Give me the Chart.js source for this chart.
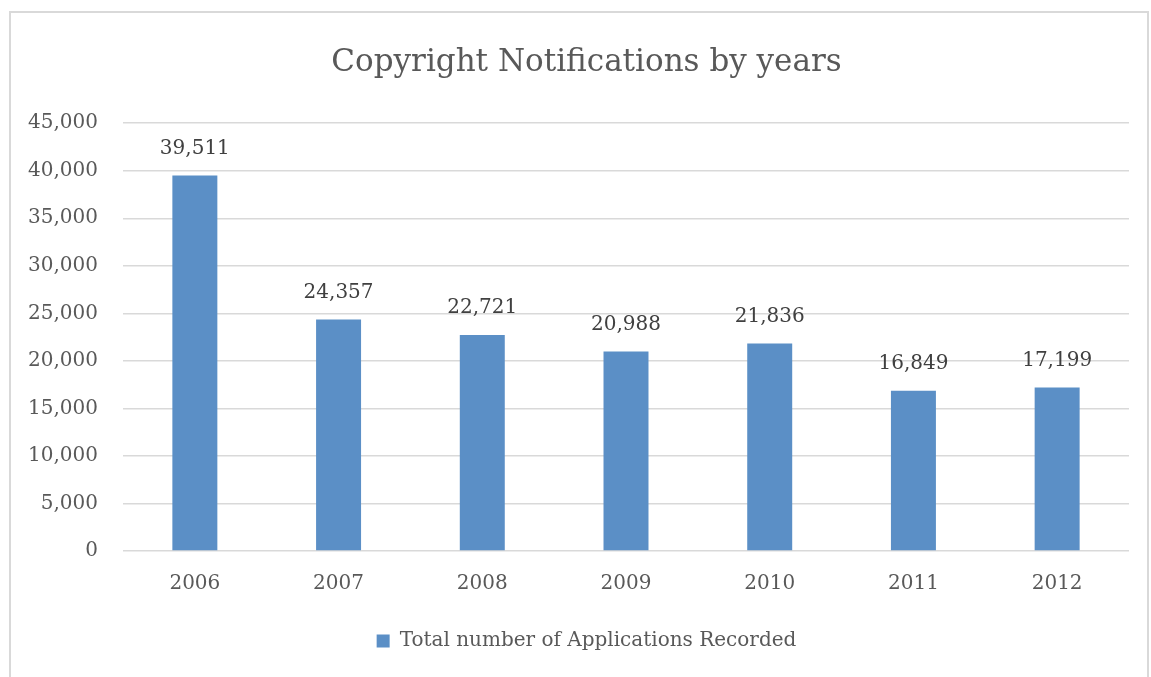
<!DOCTYPE html>
<html lang="en">
<head>
  <meta charset="UTF-8">
  <title>Copyright Notifications by years</title>
  <script src="https://cdn.jsdelivr.net/npm/chart.js"></script>
  <style>
    body {
      margin: 0;
      background: #ffffff;
    }
    .frame {
      position: absolute;
      left: 9px;
      top: 11px;
      width: 1136px;
      height: 700px;
      border: 2px solid #d9d9d9;
    }
    #chart {
      position: absolute;
      left: 0;
      top: 0;
    }
  </style>
</head>
<body>
  <div class="frame"></div>
  <canvas id="chart" width="1151" height="677"></canvas>

  <script>
    // Data
    const years = ['2006', '2007', '2008', '2009', '2010', '2011', '2012'];
    const applications = [39511, 24357, 22721, 20988, 21836, 16849, 17199];
    const yMax = 45000;
    const yStep = 5000;

    const fontFamily = "'DejaVu Serif', 'Liberation Serif', serif";
    const textColor = '#595959';

    // Value labels above each bar
    const valueLabels = {
      id: 'valueLabels',
      afterDatasetsDraw(chart) {
        const ctx = chart.ctx;
        const meta = chart.getDatasetMeta(0);
        ctx.save();
        ctx.font = '20px ' + fontFamily;
        ctx.fillStyle = '#404040';
        ctx.textAlign = 'center';
        ctx.textBaseline = 'middle';
        meta.data.forEach(function(bar, i) {
          ctx.fillText(applications[i].toLocaleString('en-US'), bar.x, bar.y - 27);
        });
        ctx.restore();
      }
    };

    // the original centres title and legend a bit right of the canvas middle
    const shiftBlocks = {
      id: 'shiftBlocks',
      afterLayout(chart) {
        [chart.titleBlock, chart.legend].forEach(function(b) {
          if (b) { b.left += 22; b.right += 22; }
        });
      }
    };

    const ctx = document.getElementById('chart').getContext('2d');
    const chart = new Chart(ctx, {
      type: 'bar',
      data: {
        labels: years,
        datasets: [{
          label: 'Total number of Applications Recorded',
          data: applications,
          backgroundColor: '#5b8fc6',
          borderWidth: 0,
          categoryPercentage: 1,
          barPercentage: 0.313
        }]
      },
      options: {
        responsive: false,
        animation: false,
        layout: {
          padding: { left: 0, right: 22, top: 0, bottom: 16 }
        },
        plugins: {
          title: {
            display: true,
            text: 'Copyright Notifications by years',
            color: textColor,
            font: { family: fontFamily, size: 31, weight: 'normal', lineHeight: 1.2 },
            padding: { top: 44, bottom: 42 }
          },
          legend: {
            position: 'bottom',
            labels: {
              color: textColor,
              font: { family: fontFamily, size: 20 },
              boxWidth: 13,
              boxHeight: 13,
              padding: 10
            }
          },
          tooltip: { enabled: false }
        },
        scales: {
          x: {
            grid: { display: false },
            border: { display: false },
            ticks: {
              color: textColor,
              font: { family: fontFamily, size: 20 },
              padding: 13
            },
            afterFit: function(scale) { scale.height = 70; }
          },
          y: {
            min: 0,
            max: yMax,
            border: { display: false },
            grid: { color: '#d9d9d9', lineWidth: 1.5, drawTicks: false },
            ticks: {
              stepSize: yStep,
              color: textColor,
              font: { family: fontFamily, size: 20 },
              padding: 25,
              callback: function(v) { return v.toLocaleString('en-US'); }
            },
            afterFit: function(scale) { scale.width = 123; }
          }
        }
      },
      plugins: [valueLabels, shiftBlocks]
    });
  </script>
</body>
</html>
